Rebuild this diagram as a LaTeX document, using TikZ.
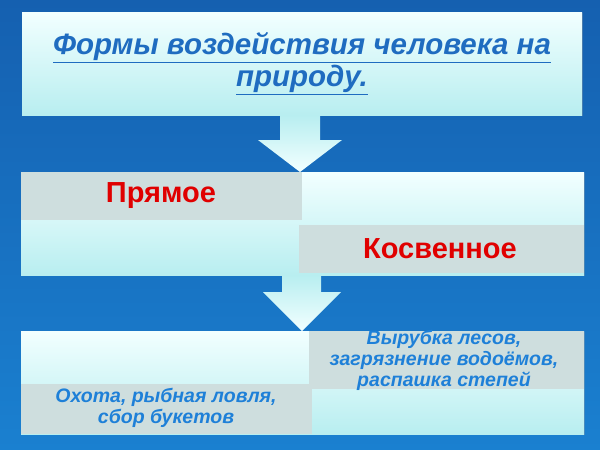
\documentclass[tikz,border=0pt]{standalone}
\usepackage{fontspec}
\setmainfont{Liberation Sans}
\usetikzlibrary{shadows}
\definecolor{bgtop}{HTML}{1560B0}
\definecolor{bgbot}{HTML}{1A80D0}
\definecolor{boxtop}{HTML}{F2FFFF}
\definecolor{boxbot}{HTML}{B8EEF0}
\definecolor{strip}{HTML}{CEDEDE}
\definecolor{titleblue}{HTML}{1F6CC0}
\definecolor{txtblue}{HTML}{1E80D8}
\definecolor{red1}{HTML}{E00000}
\tikzset{
  panel/.style={top color=boxtop,bottom color=boxbot,draw=none,drop shadow={opacity=0.3,shadow xshift=1pt,shadow yshift=-1pt}},
  stripbox/.style={fill=strip,draw=none},
  arrowbody/.style={top color=boxbot,bottom color=boxtop,draw=none},
  redtxt/.style={text=red1,font=\bfseries\fontsize{29}{32}\selectfont},
  bluetxt/.style={text=txtblue,font=\bfseries\itshape\fontsize{19.5}{21}\selectfont,align=center},
}
\begin{document}
\begin{tikzpicture}[x=1pt,y=-1pt]
\useasboundingbox (0,0) rectangle (600,450);
\shade[top color=bgtop,bottom color=bgbot] (0,0) rectangle (600,450);
% panels
\path[panel] (22,12) rectangle (582,115);
\path[panel] (21,172) rectangle (584,275);
\path[panel] (21,331) rectangle (584,434);
% arrows
\path[arrowbody] (280,115) -- (320,115) -- (320,140) -- (342,140) -- (300,172) -- (258,140) -- (280,140) -- cycle;
\path[arrowbody] (282,275) -- (321,275) -- (321,292) -- (341,292) -- (302,331) -- (263,292) -- (282,292) -- cycle;
% strips
\path[stripbox] (21,172) rectangle (302,220);
\path[stripbox] (299,225) rectangle (584,273);
\path[stripbox] (309,331) rectangle (584,389);
\path[stripbox] (21,384) rectangle (312,434);
% texts
\node[text=titleblue,font=\bfseries\itshape\fontsize{29.5}{32}\selectfont,align=center] (title) at (302,64)
  {\underline{Формы воздействия человека на}\\\underline{природу.}};
\node[redtxt] (direct) at (161,196) {Прямое};
\node[redtxt] (indirect) at (440,249) {Косвенное};
\node[bluetxt] (dtext) at (166,408) {Охота, рыбная ловля,\\сбор букетов};
\node[bluetxt] (itext) at (444,360) {Вырубка лесов,\\загрязнение водоёмов,\\распашка степей};
\end{tikzpicture}
\end{document}
